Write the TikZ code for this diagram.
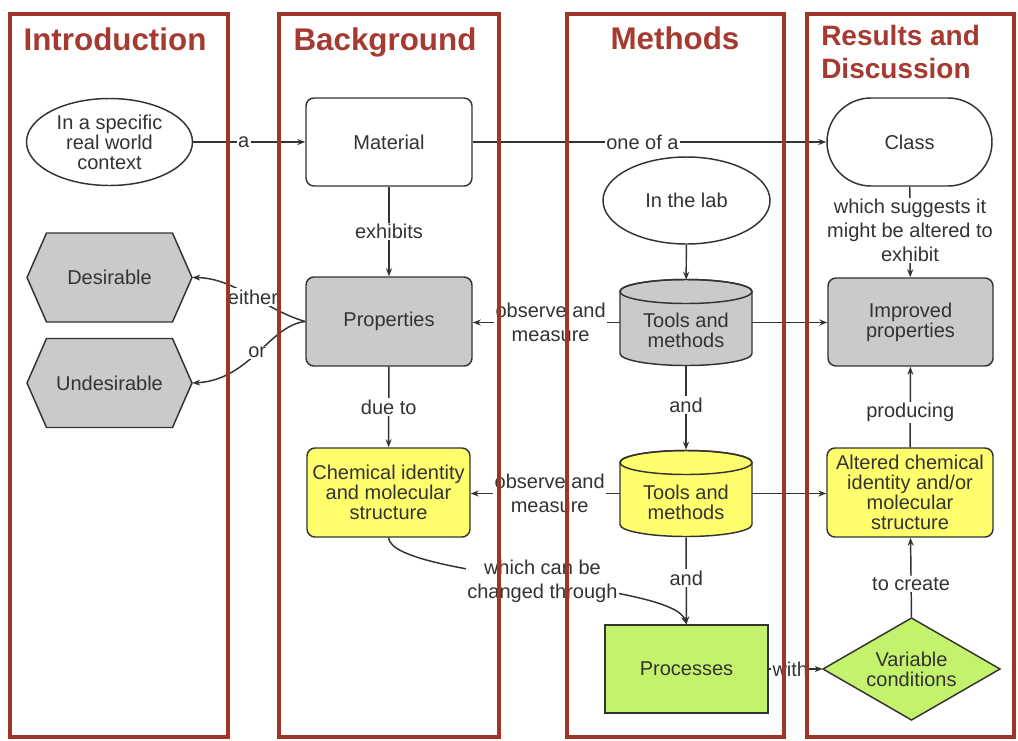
\documentclass[tikz,border=0pt]{standalone}
\usepackage{fontspec}
\setmainfont{Liberation Sans}
\usetikzlibrary{arrows.meta,shapes.geometric}
\definecolor{frame}{HTML}{A0342A}
\definecolor{ttl}{HTML}{A53A30}
\definecolor{ink}{HTML}{333333}
\definecolor{gfill}{HTML}{CACACA}
\definecolor{yfill}{HTML}{FFFF6E}
\definecolor{lfill}{HTML}{C4F26C}
\newcommand\uu{0.75pt}
\newcommand\nodefont{\fontsize{15}{15}\selectfont}
\newcommand\lblfont{\fontsize{15}{18}\selectfont}
\newcommand\drawcyl[3]{%
  \filldraw[draw=ink, line width=1.1pt, fill=#3] (#1-66,#2-31) -- (#1-66,#2+31)
    arc[start angle=180,end angle=0,x radius=66,y radius=12] -- (#1+66,#2-31)
    arc[start angle=0,end angle=-180,x radius=66,y radius=12] -- cycle;
  \draw[draw=ink, line width=1.1pt] (#1,#2-31) ellipse[x radius=66, y radius=12];}
\newcommand\hexpath[2]{(#1-82.5,#2) -- (#1-63,#2-44.5) -- (#1+63,#2-44.5) -- (#1+82.5,#2) -- (#1+63,#2+44.5) -- (#1-63,#2+44.5) -- cycle}
\begin{document}
\begin{tikzpicture}[x=0.75pt,y=-0.75pt,
  every node/.style={text=ink},
  shp/.style={draw=ink, line width=1.1pt, inner sep=0pt, align=center, font=\nodefont},
  box/.style={shp, rounded corners=6pt, minimum width=166*\uu, minimum height=88*\uu},
  ellip/.style={shp, ellipse, fill=white, minimum width=166*\uu, minimum height=87*\uu},
  ghost/.style={inner sep=0pt, align=center, font=\nodefont},
  lbl/.style={fill=white, inner sep=1pt, align=center, font=\lblfont},
  arr/.style={draw=ink, line width=1.1pt, -{Stealth[length=6pt,width=4.5pt]}},
  con/.style={draw=ink, line width=1.1pt},
  ttlfont/.style={text=ttl, font=\fontsize{23.5}{28}\selectfont\bfseries, inner sep=0pt},
  ttlfontb/.style={text=ttl, font=\fontsize{21}{25}\selectfont\bfseries, inner sep=0pt},
  frm/.style={draw=frame, line width=2.3pt}
]
\fill[white] (0,0) rectangle (1018,740);
\useasboundingbox (0,0) rectangle (1018,740);

% titles
\node[ttlfont, anchor=base] (t1) at (115,50) {Introduction};
\node[ttlfont, anchor=base] (t2) at (385,50) {Background};
\node[ttlfont, anchor=base] (t3) at (675,49) {Methods};
\node[ttlfontb, anchor=base west] (t4) at (821,45) {Results and};
\node[ttlfontb, anchor=base west] (t5) at (821,78) {Discussion};

% nodes
\node[ellip] (ctx) at (109.5,142) {In a specific\\real world\\context};
\node[box, fill=white] (mat) at (389,142) {Material};
\node[box, fill=white, rounded corners=33pt, minimum width=165*\uu] (cls) at (909.5,142) {Class};
\node[ellip, minimum width=167*\uu] (lab) at (686.5,200.5) {In the lab};

% hexagons
\filldraw[draw=ink, line width=1.1pt, fill=gfill] \hexpath{109.5}{277.5};
\node[ghost, minimum width=165*\uu, minimum height=89*\uu] (des) at (109.5,277.5) {Desirable};
\filldraw[draw=ink, line width=1.1pt, fill=gfill] \hexpath{109.5}{383};
\node[ghost, minimum width=165*\uu, minimum height=89*\uu] (und) at (109.5,383) {Undesirable};

\node[box, fill=gfill, minimum height=89*\uu] (prop) at (389,321.5) {Properties};
\node[box, fill=gfill, minimum width=165*\uu] (imp) at (910.5,322) {Improved\\properties};

% cylinders
\drawcyl{686}{322.5}{gfill}
\node[ghost, minimum width=132*\uu, minimum height=85*\uu] (tg) at (686,322.5) {};
\node[ghost] (tgt) at (686,330) {Tools and\\methods};
\drawcyl{686}{493.5}{yfill}
\node[ghost, minimum width=132*\uu, minimum height=87*\uu] (ty) at (686,493.5) {};
\node[ghost] (tyt) at (686,502) {Tools and\\methods};

\node[box, fill=yfill, minimum width=163*\uu, minimum height=89*\uu] (chem) at (388.5,492.5) {Chemical identity\\and molecular\\structure};
\node[box, fill=yfill, minimum width=166*\uu, minimum height=89*\uu] (alt) at (910,492.5) {Altered chemical\\identity and/or\\molecular\\structure};
\node[shp, fill=lfill, minimum width=163*\uu, minimum height=88*\uu] (proc) at (686.5,669) {Processes};

% diamond
\filldraw[draw=ink, line width=1.1pt, fill=lfill] (823,669) -- (911.5,618) -- (1000,669) -- (911.5,720) -- cycle;
\node[ghost, minimum width=177*\uu, minimum height=102*\uu] (var) at (911.5,669) {Variable\\conditions};

% connectors
\draw[arr] (ctx) -- (mat) node[lbl, pos=0.45] {a};
\draw[arr] (mat) -- (cls) node[lbl, pos=0.48] {one of a};
\draw[arr] (mat) -- (prop) node[lbl, pos=0.5] {exhibits};
\draw[arr] (prop) -- (chem) node[lbl, pos=0.5] {due to};
\draw[arr] (prop.west) .. controls (265,310) and (235,278) .. (des.east) node[lbl, pos=0.47] {either};
\draw[arr] (prop.west) .. controls (270,325) and (250,380) .. (und.east) node[lbl, pos=0.5] {or};
\draw[arr] (cls) -- (imp) node[lbl, pos=0.48] {which suggests it\\might be altered to\\exhibit};
\draw[arr] (lab) -- (tg);
\draw[arr] (tg.west) -- (tg.west -| prop.east) node[lbl, pos=0.47] {observe and\\measure};
\draw[arr] (tg.east) -- (tg.east -| imp.west);
\draw[arr] (tg) -- (ty) node[lbl, pos=0.47] {and};
\draw[arr] (ty.west) -- (ty.west -| chem.east) node[lbl, pos=0.47] {observe and\\measure};
\draw[arr] (ty.east) -- (ty.east -| alt.west);
\draw[arr] (ty) -- (proc) node[lbl, pos=0.47] {and};
\draw[arr] (alt) -- (imp) node[lbl, pos=0.43] {producing};
\draw[arr] (var.north) -- (alt) node[lbl, pos=0.42] {to create};
\draw[arr] (proc) -- (var.west) node[lbl, pos=0.4] {with};
\draw[arr] (chem.south) .. controls (393,578) and (672,582) .. (proc.north) node[lbl, pos=0.52] {which can be\\changed through};

% frames (on top)
\draw[frm] (10,14) rectangle (228,737);
\draw[frm] (279,14) rectangle (499,737);
\draw[frm] (567,14) rectangle (784,737);
\draw[frm] (807,14) rectangle (1014,737);
\end{tikzpicture}
\end{document}
